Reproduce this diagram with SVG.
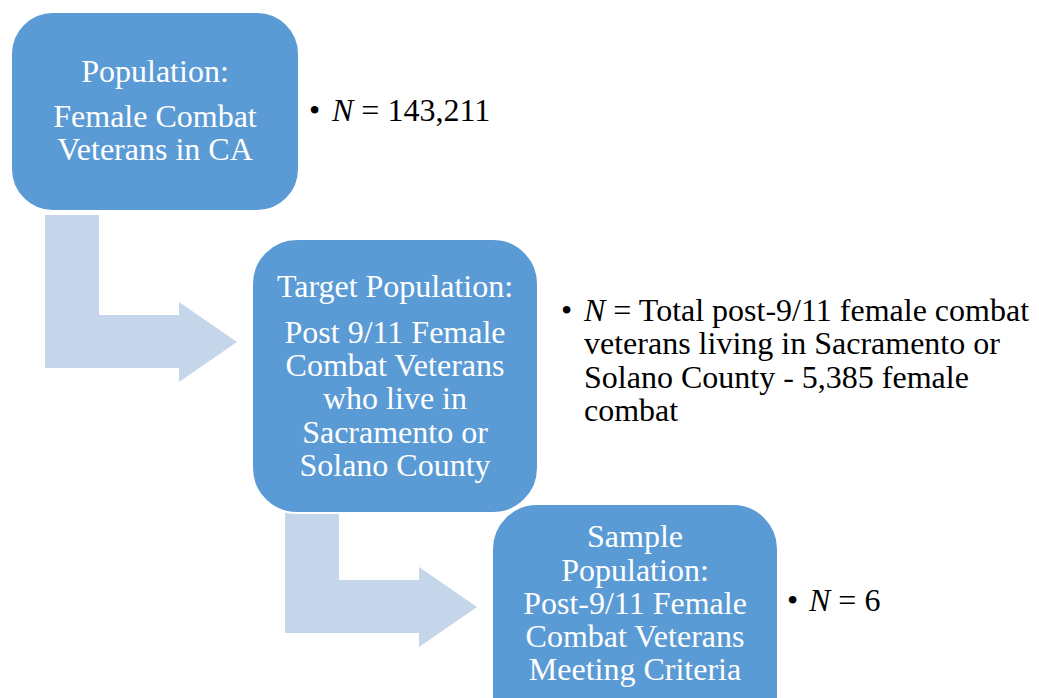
<svg xmlns="http://www.w3.org/2000/svg" width="1039" height="698" viewBox="0 0 1039 698">
<style>
.box{fill:#5B9BD5;stroke:#FFFFFF;stroke-width:2}
.arrow{fill:#C5D5EA}
.bt{font-family:"Liberation Serif","Times New Roman",serif;font-size:32px;fill:#FFFFFF;text-anchor:middle}
.nt{font-family:"Liberation Serif","Times New Roman",serif;font-size:32px;fill:#000000}
</style>
<rect width="1039" height="698" fill="#FFFFFF"/>
<g id="connectors">
<polygon class="arrow" points="45,215 99,215 99,315 179,315 179,302 237,342 179,382 179,368 45,368"/>
<polygon class="arrow" points="285,510 339,510 339,580 419,580 419,567 477,607 419,647 419,633 285,633"/>
</g>
<g id="node-population">
<rect class="box" x="11" y="12" width="288" height="199" rx="42" ry="42"/>
<text class="bt" x="155" y="82">Population:</text>
<text class="bt" x="155" y="127">Female Combat</text>
<text class="bt" x="155" y="160">Veterans in CA</text>
</g>
<g id="node-target">
<rect class="box" x="252" y="239" width="286" height="274" rx="45" ry="45"/>
<text class="bt" x="395" y="297">Target Population:</text>
<text class="bt" x="395" y="343">Post 9/11 Female</text>
<text class="bt" x="395" y="376">Combat Veterans</text>
<text class="bt" x="395" y="409">who live in</text>
<text class="bt" x="395" y="443">Sacramento or</text>
<text class="bt" x="395" y="476">Solano County</text>
</g>
<g id="node-sample">
<rect class="box" x="492" y="504" width="286" height="274" rx="45" ry="45"/>
<text class="bt" x="635" y="547">Sample</text>
<text class="bt" x="635" y="581">Population:</text>
<text class="bt" x="635" y="614">Post-9/11 Female</text>
<text class="bt" x="635" y="647">Combat Veterans</text>
<text class="bt" x="635" y="680">Meeting Criteria</text>
</g>
<g id="note-population">
<text class="nt" x="309" y="121">•</text>
<text class="nt" x="332" y="121"><tspan font-style="italic">N</tspan> = 143,211</text>
</g>
<g id="note-target">
<text class="nt" x="561" y="321">•</text>
<text class="nt" x="584" y="321"><tspan font-style="italic">N</tspan> = Total post-9/11 female combat</text>
<text class="nt" x="584" y="354">veterans living in Sacramento or</text>
<text class="nt" x="584" y="388">Solano County - 5,385 female</text>
<text class="nt" x="584" y="421">combat</text>
</g>
<g id="note-sample">
<text class="nt" x="787" y="611">•</text>
<text class="nt" x="809" y="611"><tspan font-style="italic">N</tspan> = 6</text>
</g>
</svg>
